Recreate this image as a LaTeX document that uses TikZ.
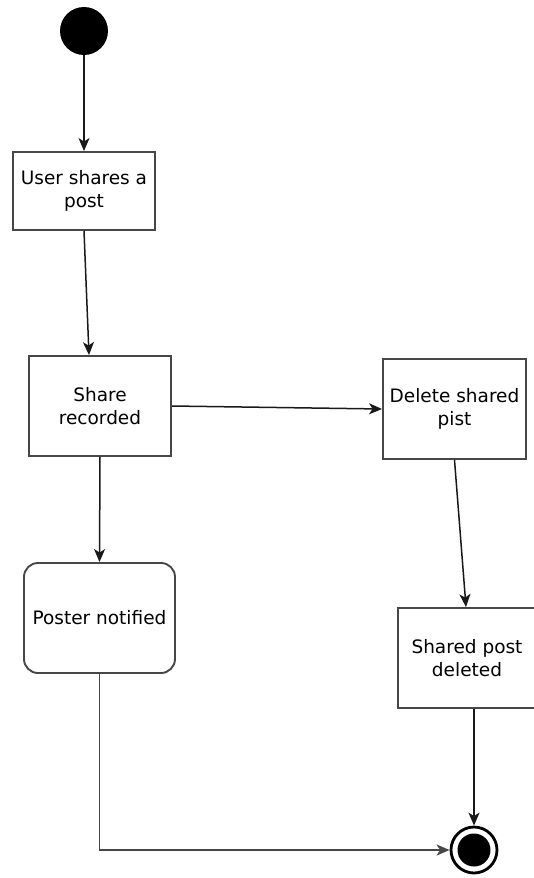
\documentclass[tikz,border=0pt]{standalone}
\usepackage{fontspec}
\setmainfont{DejaVu Sans}
\usetikzlibrary{arrows.meta}
\begin{document}
\begin{tikzpicture}[x=1pt,y=-1pt,>={Stealth[length=13pt,width=11pt,inset=3.5pt]},
  state/.style={draw=black!72,line width=1.9pt,fill=white,align=center,inner sep=0pt,
    font=\fontsize{18.5}{23}\selectfont},
  flow/.style={->,black!90,line width=1.5pt}]
\useasboundingbox (0,0) rectangle (533,878);
% initial and final states
\node[circle,fill=black,minimum size=48pt,inner sep=0pt] (start) at (84,31) {};
\node[circle,draw=black,line width=2.8pt,fill=white,minimum size=46pt,inner sep=0pt] (fin) at (474,850) {};
\node[circle,fill=black,minimum size=33pt,inner sep=0pt] (finin) at (fin) {};
% activities
\node[state,minimum width=142pt,minimum height=78pt] (share) at (84,191) {User shares a\\post};
\node[state,minimum width=142pt,minimum height=100pt] (rec) at (100,406) {Share\\recorded};
\node[state,minimum width=143pt,minimum height=100pt] (del) at (454.5,409) {Delete shared\\pist};
\node[state,rounded corners=14pt,minimum width=151pt,minimum height=110pt] (notif) at (99.5,618) {Poster notified};
\node[state,minimum width=138pt,minimum height=100pt] (deleted) at (467,658) {Shared post\\deleted};
% transitions
\draw[flow] (start) -- (share);
\draw[flow] (share.south) -- ([xshift=-11pt]rec.north);
\draw[flow] (rec.east) -- (del.west);
\draw[flow] (rec.south) -- (notif.north);
\draw[flow] (del.south) -- ([xshift=-1pt]deleted.north);
\draw[flow] ([xshift=7pt]deleted.south) -- (fin);
\draw[flow,black!72,line width=1.9pt] (notif.south) |- (fin.west);
\end{tikzpicture}
\end{document}
